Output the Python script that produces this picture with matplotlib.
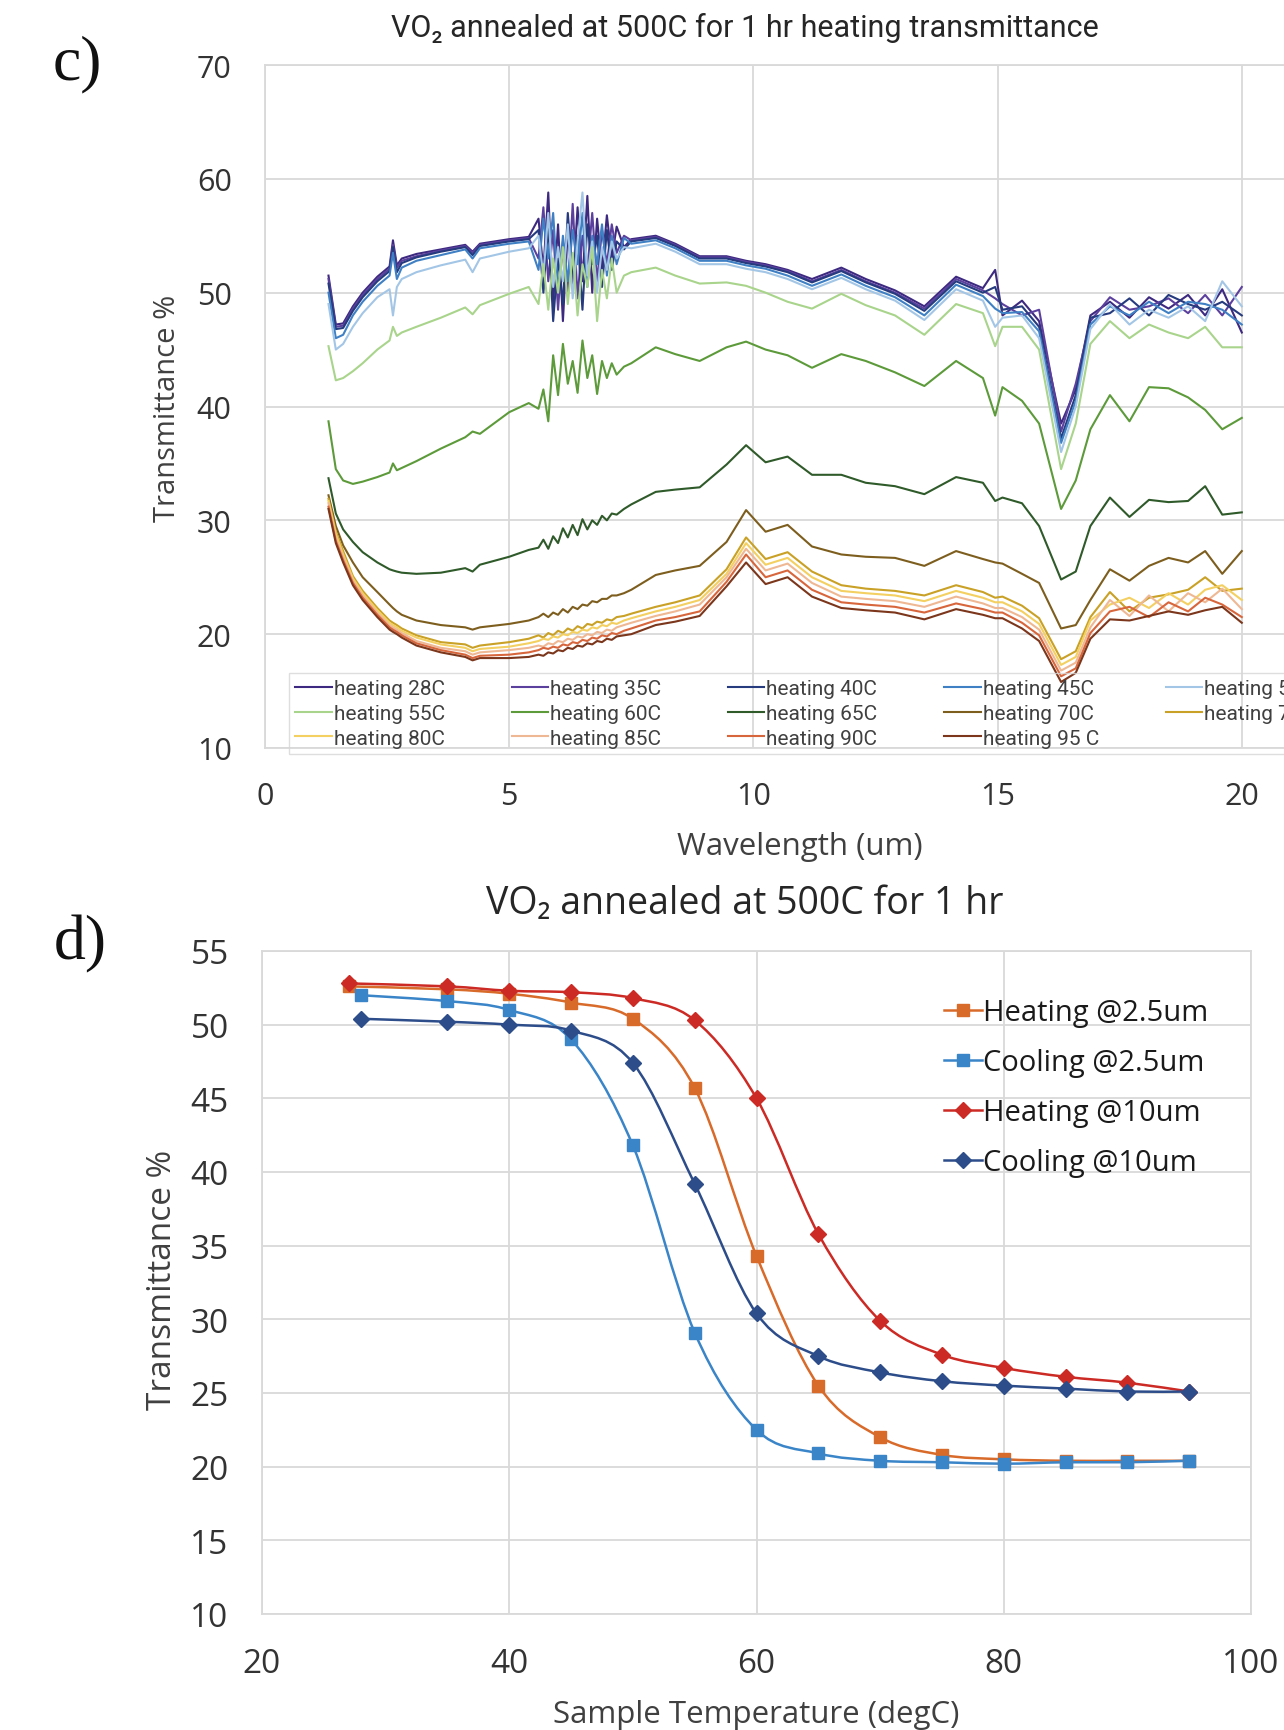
import matplotlib
matplotlib.use("Agg")
import matplotlib.pyplot as plt
from matplotlib.path import Path
from matplotlib.patches import PathPatch
from matplotlib.lines import Line2D

# ---------------- panel c: heating transmittance spectra ----------------
wavelength = [1.3, 1.45, 1.6, 1.8, 2.0, 2.3, 2.55, 2.62, 2.7, 2.8,
              3.1, 3.6, 4.1, 4.25, 4.4, 5.0, 5.4, 5.6, 5.7, 5.8,
              5.9, 6.0, 6.1, 6.2, 6.3, 6.4, 6.5, 6.6, 6.7, 6.8,
              6.9, 7.0, 7.1, 7.2, 7.35, 7.5, 8.0, 8.4, 8.9, 9.45,
              9.85, 10.25, 10.7, 11.2, 11.8, 12.3, 12.9, 13.5, 14.15, 14.7,
              14.95, 15.1, 15.5, 15.85, 16.3, 16.6, 16.9, 17.3, 17.7, 18.1,
              18.5, 18.9, 19.25, 19.6, 20.0]

heat_28 = [51.5, 47.2, 47.3, 48.8, 50.0, 51.4, 52.3, 54.6, 52.4, 53.0,
           53.4, 53.8, 54.2, 53.6, 54.3, 54.7, 54.9, 56.5, 52.0, 58.8,
           49.0, 56.0, 47.5, 55.5, 50.5, 57.5, 51.0, 58.5, 50.0, 56.5,
           52.0, 56.8, 53.0, 55.8, 54.0, 54.7, 55.0, 54.3, 53.2, 53.2,
           52.8, 52.5, 52.0, 51.2, 52.2, 51.2, 50.2, 48.8, 51.4, 50.4,
           52.0, 48.0, 49.3, 47.5, 38.5, 41.5, 48.0, 49.2, 47.8, 49.6,
           48.6, 49.8, 48.0, 50.3, 46.5]
heat_35 = [51.2, 47.0, 47.1, 48.6, 49.8, 51.2, 52.1, 54.2, 52.2, 52.8,
           53.2, 53.7, 54.1, 53.5, 54.2, 54.6, 54.8, 53.0, 57.5, 51.0,
           55.5, 48.5, 54.5, 50.0, 57.8, 49.5, 55.0, 52.0, 57.0, 51.0,
           55.5, 52.5, 56.0, 53.5, 55.0, 54.6, 54.9, 54.2, 53.1, 53.1,
           52.7, 52.4, 51.9, 51.0, 52.0, 51.0, 50.0, 48.6, 51.2, 50.2,
           49.5, 49.0, 48.0, 48.5, 37.8, 42.0, 47.5, 49.6, 48.5, 48.8,
           49.5, 48.2, 49.8, 48.0, 50.5]
heat_40 = [50.8, 46.8, 46.9, 48.4, 49.6, 51.0, 51.9, 54.0, 51.8, 52.6,
           53.1, 53.6, 54.0, 53.3, 54.1, 54.5, 54.7, 55.5, 50.0, 56.0,
           47.5, 53.0, 49.0, 57.0, 51.5, 55.0, 48.5, 56.0, 52.5, 55.0,
           50.5, 55.5, 52.0, 54.5, 53.8, 54.5, 54.8, 54.1, 53.0, 53.0,
           52.6, 52.3, 51.8, 50.9, 51.9, 50.9, 49.9, 48.4, 51.0, 50.0,
           50.5, 48.5, 48.8, 47.0, 37.2, 41.0, 47.8, 48.2, 49.5, 48.0,
           49.8, 49.0, 48.5, 49.2, 48.0]
heat_45 = [50.0, 46.0, 46.3, 48.0, 49.2, 50.6, 51.5, 53.5, 51.2, 52.2,
           52.8, 53.3, 53.8, 53.0, 53.9, 54.3, 54.5, 52.0, 56.5, 53.0,
           57.0, 50.0, 55.0, 51.0, 55.5, 52.5, 57.0, 50.5, 55.0, 52.5,
           56.0, 51.5, 55.0, 52.5, 54.8, 54.3, 54.6, 53.9, 52.8, 52.8,
           52.4, 52.1, 51.5, 50.6, 51.6, 50.6, 49.6, 48.0, 50.7, 49.7,
           48.6, 48.2, 48.3, 46.6, 36.8, 40.5, 47.2, 48.8, 48.0, 49.2,
           48.2, 49.2, 49.0, 48.5, 47.2]
heat_50 = [49.0, 45.0, 45.5, 47.0, 48.2, 49.6, 50.3, 48.0, 50.5, 51.2,
           51.8, 52.4, 52.9, 51.8, 53.0, 53.6, 53.9, 55.0, 51.5, 57.0,
           50.5, 54.0, 51.0, 56.0, 49.5, 54.5, 58.8, 51.5, 54.5, 50.0,
           54.0, 52.0, 54.5, 53.0, 54.0, 53.9, 54.3, 53.6, 52.5, 52.5,
           52.1, 51.8, 51.2, 50.3, 51.3, 50.3, 49.3, 47.6, 50.3, 49.3,
           47.0, 47.8, 48.0, 46.0, 36.0, 40.0, 46.8, 49.0, 47.2, 48.5,
           47.8, 48.8, 47.5, 51.0, 48.8]
heat_55 = [45.3, 42.3, 42.5, 43.1, 43.8, 45.0, 45.8, 47.0, 46.2, 46.5,
           47.0, 47.8, 48.7, 48.1, 48.9, 49.9, 50.5, 49.0, 52.5, 48.5,
           53.0, 50.0, 54.0, 49.0, 53.5, 48.0, 52.5, 50.5, 54.0, 47.5,
           52.0, 49.5, 53.0, 50.0, 51.5, 51.8, 52.2, 51.5, 50.8, 50.9,
           50.6, 50.0, 49.2, 48.6, 49.9, 48.9, 48.0, 46.3, 49.0, 48.2,
           45.3, 47.0, 47.0, 45.0, 34.5, 38.5, 45.5, 47.5, 46.0, 47.2,
           46.5, 46.0, 47.0, 45.2, 45.2]
heat_60 = [38.7, 34.5, 33.5, 33.2, 33.4, 33.8, 34.2, 35.0, 34.4, 34.6,
           35.2, 36.3, 37.3, 37.8, 37.6, 39.5, 40.3, 39.8, 41.5, 38.7,
           44.5, 41.0, 45.5, 42.0, 44.0, 41.2, 45.8, 42.5, 44.5, 41.1,
           44.0, 42.5, 43.8, 42.8, 43.5, 43.8, 45.2, 44.6, 44.0, 45.2,
           45.7, 45.0, 44.5, 43.4, 44.6, 44.0, 43.0, 41.8, 44.0, 42.5,
           39.2, 41.7, 40.5, 38.5, 31.0, 33.5, 38.0, 41.0, 38.7, 41.7,
           41.6, 40.8, 39.7, 38.0, 39.0]
heat_65 = [33.7, 30.6, 29.2, 28.1, 27.2, 26.3, 25.7, 25.6, 25.5, 25.4,
           25.3, 25.4, 25.8, 25.5, 26.1, 26.8, 27.4, 27.6, 28.3, 27.5,
           28.6, 28.0, 29.3, 28.5, 29.6, 28.7, 30.1, 29.2, 30.0, 29.6,
           30.4, 30.0, 30.6, 30.5, 31.0, 31.4, 32.5, 32.7, 32.9, 34.9,
           36.6, 35.1, 35.6, 34.0, 34.0, 33.3, 33.0, 32.3, 33.8, 33.3,
           31.7, 32.0, 31.5, 29.5, 24.8, 25.5, 29.5, 32.0, 30.3, 31.8,
           31.6, 31.7, 33.0, 30.5, 30.7]
heat_70 = [32.2, 29.5, 27.8, 26.3, 25.0, 23.7, 22.6, 22.3, 22.0, 21.7,
           21.2, 20.8, 20.6, 20.4, 20.6, 20.9, 21.2, 21.5, 21.8, 21.5,
           21.9, 21.7, 22.2, 21.9, 22.4, 22.2, 22.6, 22.5, 22.9, 22.8,
           23.1, 23.1, 23.4, 23.4, 23.6, 23.9, 25.2, 25.6, 26.0, 28.1,
           30.9, 29.0, 29.6, 27.7, 27.0, 26.8, 26.7, 26.0, 27.3, 26.6,
           26.3, 26.2, 25.3, 24.5, 20.5, 20.8, 23.0, 25.7, 24.7, 26.0,
           26.7, 26.3, 27.3, 25.3, 27.3]
heat_75 = [31.9, 29.0, 27.3, 25.1, 23.8, 22.3, 21.2, 21.0, 20.8, 20.5,
           19.9, 19.3, 19.1, 18.8, 19.0, 19.3, 19.6, 19.9, 19.7, 20.1,
           19.9, 20.3, 20.1, 20.5, 20.3, 20.7, 20.5, 20.9, 20.8, 21.1,
           21.0, 21.3, 21.2, 21.5, 21.6, 21.8, 22.4, 22.8, 23.4, 25.7,
           28.5, 26.6, 27.2, 25.5, 24.3, 24.0, 23.8, 23.4, 24.3, 23.7,
           23.2, 23.3, 22.5, 21.4, 17.8, 18.5, 21.5, 23.7, 22.0, 23.2,
           23.5, 23.9, 25.0, 23.8, 24.0]
heat_80 = [31.7, 28.8, 27.0, 24.9, 23.6, 22.1, 21.0, 20.8, 20.6, 20.3,
           19.7, 19.1, 18.8, 18.5, 18.7, 18.9, 19.2, 19.4, 19.6, 19.5,
           19.8, 19.7, 20.0, 19.9, 20.2, 20.1, 20.4, 20.3, 20.6, 20.5,
           20.8, 20.7, 21.0, 20.9, 21.2, 21.4, 22.0, 22.4, 23.0, 25.3,
           28.0, 26.1, 26.7, 25.0, 23.8, 23.6, 23.4, 22.9, 23.8, 23.2,
           22.8, 22.8, 22.0, 20.9, 17.3, 18.0, 21.2, 22.6, 23.2, 22.3,
           23.6, 22.6, 23.9, 24.3, 23.0]
heat_85 = [31.5, 28.5, 26.8, 24.7, 23.4, 21.9, 20.8, 20.6, 20.4, 20.1,
           19.4, 18.8, 18.5, 18.2, 18.4, 18.6, 18.8, 19.0, 18.9, 19.2,
           19.1, 19.4, 19.3, 19.6, 19.5, 19.8, 19.7, 20.0, 19.9, 20.2,
           20.1, 20.4, 20.3, 20.6, 20.8, 21.0, 21.6, 22.0, 22.6, 25.0,
           27.5, 25.6, 26.2, 24.5, 23.3, 23.1, 22.9, 22.4, 23.3, 22.7,
           22.3, 22.3, 21.5, 20.4, 16.8, 17.5, 20.6, 23.0, 21.6, 23.4,
           22.0, 23.6, 22.8, 24.0, 22.2]
heat_90 = [31.2, 28.2, 26.5, 24.5, 23.2, 21.7, 20.6, 20.4, 20.2, 19.9,
           19.2, 18.6, 18.2, 17.9, 18.1, 18.2, 18.4, 18.6, 18.8, 18.7,
           18.9, 18.8, 19.1, 19.0, 19.3, 19.2, 19.5, 19.4, 19.7, 19.6,
           19.9, 19.8, 20.1, 20.0, 20.3, 20.5, 21.2, 21.5, 22.0, 24.6,
           27.0, 25.0, 25.6, 23.9, 22.8, 22.6, 22.4, 21.9, 22.7, 22.2,
           21.9, 21.9, 21.0, 19.9, 16.3, 17.0, 20.1, 22.0, 22.4, 21.5,
           22.8, 22.0, 23.2, 22.6, 21.5]
heat_95 = [31.0, 28.0, 26.3, 24.3, 23.0, 21.5, 20.4, 20.2, 20.0, 19.7,
           19.0, 18.4, 18.0, 17.7, 17.9, 17.9, 18.0, 18.2, 18.1, 18.4,
           18.3, 18.6, 18.5, 18.8, 18.7, 19.0, 18.9, 19.2, 19.1, 19.4,
           19.3, 19.6, 19.5, 19.8, 19.9, 20.0, 20.8, 21.1, 21.6, 24.2,
           26.3, 24.4, 25.0, 23.3, 22.3, 22.1, 21.9, 21.3, 22.2, 21.7,
           21.4, 21.4, 20.5, 19.4, 15.8, 16.6, 19.6, 21.3, 21.2, 21.6,
           22.0, 21.7, 22.1, 22.4, 21.0]

spectra = [heat_28, heat_35, heat_40, heat_45, heat_50, heat_55, heat_60,
           heat_65, heat_70, heat_75, heat_80, heat_85, heat_90, heat_95]
spectra_labels = ["heating 28C", "heating 35C", "heating 40C", "heating 45C",
                  "heating 50C", "heating 55C", "heating 60C", "heating 65C",
                  "heating 70C", "heating 75C", "heating 80C", "heating 85C",
                  "heating 90C", "heating 95 C"]
spectra_colors = ["#3d2a80", "#5c409e", "#263a7e", "#3f80c4", "#a3c6e6",
                  "#a9d48c", "#5c9a3a", "#2f5a2a", "#7d5e1e", "#c9a126",
                  "#f3d061", "#efb894", "#d8663c", "#7b361b"]

# ---------------- panel d: transmittance vs temperature ----------------
temp_heat = [27, 35, 40, 45, 50, 55, 60, 65, 70, 75, 80, 85, 90, 95]
temp_cool = [28, 35, 40, 45, 50, 55, 60, 65, 70, 75, 80, 85, 90, 95]
heat_2p5 = [52.6, 52.4, 52.1, 51.5, 50.4, 45.7, 34.3, 25.5, 22.0, 20.8, 20.5, 20.4, 20.4, 20.4]
cool_2p5 = [52.0, 51.6, 51.0, 49.0, 41.8, 29.1, 22.5, 20.9, 20.4, 20.3, 20.2, 20.3, 20.3, 20.4]
heat_10 = [52.8, 52.6, 52.3, 52.2, 51.8, 50.3, 45.0, 35.8, 29.9, 27.6, 26.7, 26.1, 25.7, 25.1]
cool_10 = [50.4, 50.2, 50.0, 49.6, 47.4, 39.2, 30.4, 27.5, 26.4, 25.8, 25.5, 25.3, 25.1, 25.1]

W, H = 1284, 1731
SANS = ["Open Sans", "DejaVu Sans"]
NARROW = ["Liberation Sans Narrow", "Roboto", "DejaVu Sans"]
SERIF = ["Liberation Serif", "DejaVu Serif"]
GRID = "#d9d9d9"
TXT = "#404040"


def fx(px):
    return px / W


def fy(py):
    return 1 - py / H


def smooth_path(xs, ys):
    # Excel style smoothed line: cubic bezier through every point
    n = len(xs)
    verts = [(xs[0], ys[0])]
    codes = [Path.MOVETO]
    for i in range(n - 1):
        xa, ya = (xs[i - 1], ys[i - 1]) if i > 0 else (xs[i], ys[i])
        xb, yb = (xs[i + 2], ys[i + 2]) if i + 2 < n else (xs[i + 1], ys[i + 1])
        c1 = (xs[i] + (xs[i + 1] - xa) / 6, ys[i] + (ys[i + 1] - ya) / 6)
        c2 = (xs[i + 1] - (xb - xs[i]) / 6, ys[i + 1] - (yb - ys[i]) / 6)
        verts += [c1, c2, (xs[i + 1], ys[i + 1])]
        codes += [Path.CURVE4] * 3
    return Path(verts, codes)


def style_axes(ax, size, pad):
    ax.grid(True, color=GRID, lw=1.3)
    ax.set_axisbelow(True)
    for s in ax.spines.values():
        s.set_color(GRID)
        s.set_linewidth(1.3)
    ax.tick_params(length=0, labelsize=size, labelcolor="#333333", pad=pad)
    for t in ax.get_xticklabels() + ax.get_yticklabels():
        t.set_family(SANS)


fig = plt.figure(figsize=(W / 100, H / 100), dpi=100)
fig.patch.set_facecolor("white")

# --- panel c ---
ax1 = fig.add_axes([fx(265), fy(749), fx(1486 - 265), (749 - 66) / H])
handles = []
for vals, lab, col in zip(spectra, spectra_labels, spectra_colors):
    h, = ax1.plot(wavelength, vals, color=col, lw=1.5, label=lab)
    handles.append(h)
ax1.set_xlim(0, 25)
ax1.set_ylim(10, 70)
ax1.set_xticks(range(0, 26, 5))
ax1.set_yticks(range(10, 71, 10))
style_axes(ax1, 22, 24)

# legend is filled row by row like the original (5 columns)
order = [0, 5, 10, 1, 6, 11, 2, 7, 12, 3, 8, 13, 4, 9]
leg1 = ax1.legend([handles[i] for i in order], [spectra_labels[i] for i in order],
                  ncol=5, loc="lower left", bbox_to_anchor=(fx(289), fy(755)),
                  bbox_transform=fig.transFigure, borderaxespad=0,
                  prop={"family": NARROW, "size": 15}, handlelength=1.75,
                  handletextpad=0.1, columnspacing=3.2, labelspacing=0.27,
                  frameon=True, fancybox=False, borderpad=0.3)
leg1.get_frame().set_edgecolor("#d6d6d6")
leg1.get_frame().set_facecolor("none")
for t in leg1.get_texts():
    t.set_color(TXT)

fig.text(fx(745), fy(28), "VO\u2082 annealed at 500C for 1 hr heating transmittance",
         ha="center", va="center", fontsize=22, family=NARROW, color="#262626")
fig.text(fx(800), fy(847), "Wavelength (um)", ha="center", va="center",
         fontsize=22.5, family=SANS, color=TXT)
fig.text(fx(168), fy(408), "Transmittance %", ha="center", va="center",
         rotation=90, fontsize=21, family=SANS, color=TXT)
fig.text(fx(77), fy(64), "c)", ha="center", va="center", fontsize=46,
         family=SERIF, color="#111111")

# --- panel d ---
ax2 = fig.add_axes([fx(262), fy(1615), fx(1251 - 262), (1615 - 952) / H])
series_d = [
    (temp_heat, heat_2p5, "#d86a2a", "s", 9, "Heating @2.5um"),
    (temp_cool, cool_2p5, "#3a84c8", "s", 9, "Cooling @2.5um"),
    (temp_heat, heat_10, "#cc2a24", "D", 8, "Heating @10um"),
    (temp_cool, cool_10, "#2c4d8a", "D", 8, "Cooling @10um"),
]
leg_handles = []
for xs, ys, col, mk, ms, lab in series_d:
    ax2.add_patch(PathPatch(smooth_path(xs, ys), fc="none", ec=col, lw=1.8, zorder=2))
    ax2.plot(xs, ys, ls="none", marker=mk, ms=ms, color=col, zorder=3)
    leg_handles.append(Line2D([], [], color=col, lw=1.8, marker=mk, ms=ms))
ax2.set_xlim(20, 100)
ax2.set_ylim(10, 55)
ax2.set_xticks(range(20, 101, 20))
ax2.set_yticks(range(10, 56, 5))
style_axes(ax2, 24, 24)

leg2 = ax2.legend(leg_handles, [s[5] for s in series_d], loc="upper left",
                  bbox_to_anchor=(fx(944), fy(999)), bbox_transform=fig.transFigure,
                  borderaxespad=0, borderpad=0, frameon=False,
                  prop={"family": SANS, "size": 21}, handlelength=1.3,
                  handletextpad=0.05, labelspacing=0.72)
for t in leg2.get_texts():
    t.set_color("#1a1a1a")

fig.text(fx(745), fy(904), "VO\u2082 annealed at 500C for 1 hr", ha="center",
         va="center", fontsize=27, family=SANS, color="#262626")
fig.text(fx(756), fy(1715), "Sample Temperature (degC)", ha="center",
         va="center", fontsize=22.5, family=SANS, color=TXT)
fig.text(fx(163), fy(1280), "Transmittance %", ha="center", va="center",
         rotation=90, fontsize=24, family=SANS, color=TXT)
fig.text(fx(80), fy(944), "d)", ha="center", va="center", fontsize=46,
         family=SERIF, color="#111111")

fig.savefig("out.png", dpi=100)
